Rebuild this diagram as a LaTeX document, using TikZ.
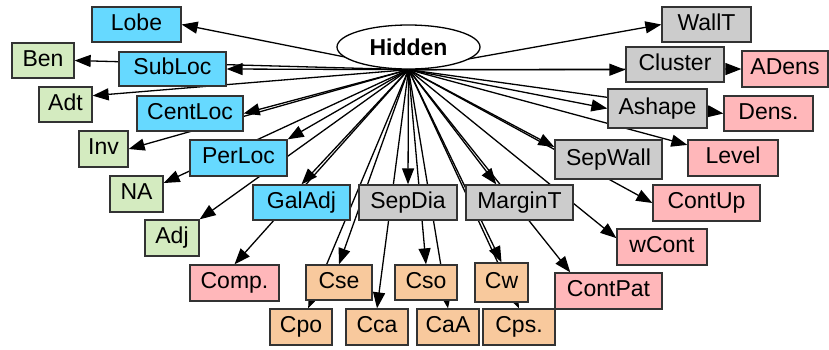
\documentclass[tikz,border=0pt]{standalone}
\usepackage{fontspec}
\setmainfont{Liberation Sans}
\usetikzlibrary{arrows.meta,shapes.geometric,backgrounds}

\definecolor{locblue}{RGB}{102,217,255}
\definecolor{leafgreen}{RGB}{212,235,192}
\definecolor{midgrey}{RGB}{204,204,204}
\definecolor{leafpink}{RGB}{255,183,186}
\definecolor{leafpeach}{RGB}{248,201,157}
\definecolor{rim}{RGB}{51,51,51}

\tikzset{
  gbox/.style={draw=rim, line width=1.3pt, rectangle, inner sep=0pt,
    text height=16pt, text depth=5pt,
    font=\fontsize{23}{27}\selectfont},
  locbox/.style={gbox, fill=locblue},
  greenbox/.style={gbox, fill=leafgreen},
  greybox/.style={gbox, fill=midgrey},
  pinkbox/.style={gbox, fill=leafpink},
  peachbox/.style={gbox, fill=leafpeach},
  edge/.style={draw=black, line width=1.3pt, -{Triangle[length=16pt,width=12pt]}},
}

% node from its corner coordinates: style, name, x1, y1, x2, y2, label
\newcommand\gnode[7]{%
  \node[#1, minimum width={#5-#3}, minimum height={#6-#4}] (#2)
    at ({(#3+#5)/2},{(#4+#6)/2}) {#7};}

\begin{document}
\begin{tikzpicture}[x=1pt,y=-1pt]
\useasboundingbox (0,0) rectangle (829,349);

\node[ellipse, draw=black, line width=1.3pt, fill=white, inner sep=0pt,
      minimum width=143pt, minimum height=44pt,
      font=\bfseries\fontsize{23}{27}\selectfont] (hid) at (408.5,47) {Hidden};

\gnode{locbox}{lobe}{92}{7}{181}{42}{Lobe}
\gnode{greybox}{wallt}{662}{7}{751}{42}{WallT}
\gnode{greenbox}{ben}{12}{43}{74}{78}{Ben}
\gnode{locbox}{subloc}{119}{52}{226}{86}{SubLoc}
\gnode{greybox}{cluster}{626}{47}{724}{82}{Cluster}
\gnode{pinkbox}{adens}{742}{51}{828}{87}{ADens}
\gnode{greenbox}{adt}{39}{87}{92}{122}{Adt}
\gnode{locbox}{centloc}{137}{96}{243}{131}{CentLoc}
\gnode{greybox}{ashape}{608}{89}{707}{128}{Ashape}
\gnode{pinkbox}{dens}{724}{96}{813}{131}{Dens.}
\gnode{greenbox}{inv}{79}{131}{128}{167}{Inv}
\gnode{locbox}{perloc}{190}{140}{287}{176}{PerLoc}
\gnode{greybox}{sepwall}{555}{140}{662}{179}{SepWall}
\gnode{pinkbox}{level}{688}{140}{778}{176}{Level}
\gnode{greenbox}{na}{110}{176}{163}{212}{NA}
\gnode{locbox}{galadj}{253}{185}{350}{220}{GalAdj}
\gnode{greybox}{sepdia}{359}{185}{457}{220}{SepDia}
\gnode{greybox}{margint}{466}{185}{573}{220}{MarginT}
\gnode{pinkbox}{contup}{653}{185}{760}{221}{ContUp}
\gnode{greenbox}{adj}{145}{220}{199}{256}{Adj}
\gnode{pinkbox}{wcont}{617}{229}{707}{265}{wCont}
\gnode{pinkbox}{comp}{190}{265}{279}{301}{Comp.}
\gnode{peachbox}{cse}{306}{265}{372}{300}{Cse}
\gnode{peachbox}{cso}{395}{265}{457}{300}{Cso}
\gnode{peachbox}{cw}{475}{263}{528}{302}{Cw}
\gnode{pinkbox}{contpat}{555}{273}{662}{309}{ContPat}
\gnode{peachbox}{cpo}{270}{309}{332}{345}{Cpo}
\gnode{peachbox}{cca}{346}{309}{408}{345}{Cca}
\gnode{peachbox}{caa}{417}{309}{479}{345}{CaA}
\gnode{peachbox}{cps}{483}{309}{555}{345}{Cps.}

% every connector leaves the hidden node and runs behind the boxes
\begin{scope}[on background layer]
  \foreach \t in {lobe.east, wallt.west, ben.east, subloc.east,
                  cluster.186, adens.west, adt.18, centloc.east,
                  ashape.west, dens.west, inv.east, perloc.north east,
                  sepwall.167, level.164, na.22, galadj.north,
                  sepdia.north, margint.142, contup.west, adj.north east,
                  wcont.169, comp.north, cse.north, cso.north, cw.north,
                  contpat.154, cpo.69, cca.north, caa.north, cps.north}
    \draw[edge] (hid.south) -- (\t);
\end{scope}
\end{tikzpicture}
\end{document}
